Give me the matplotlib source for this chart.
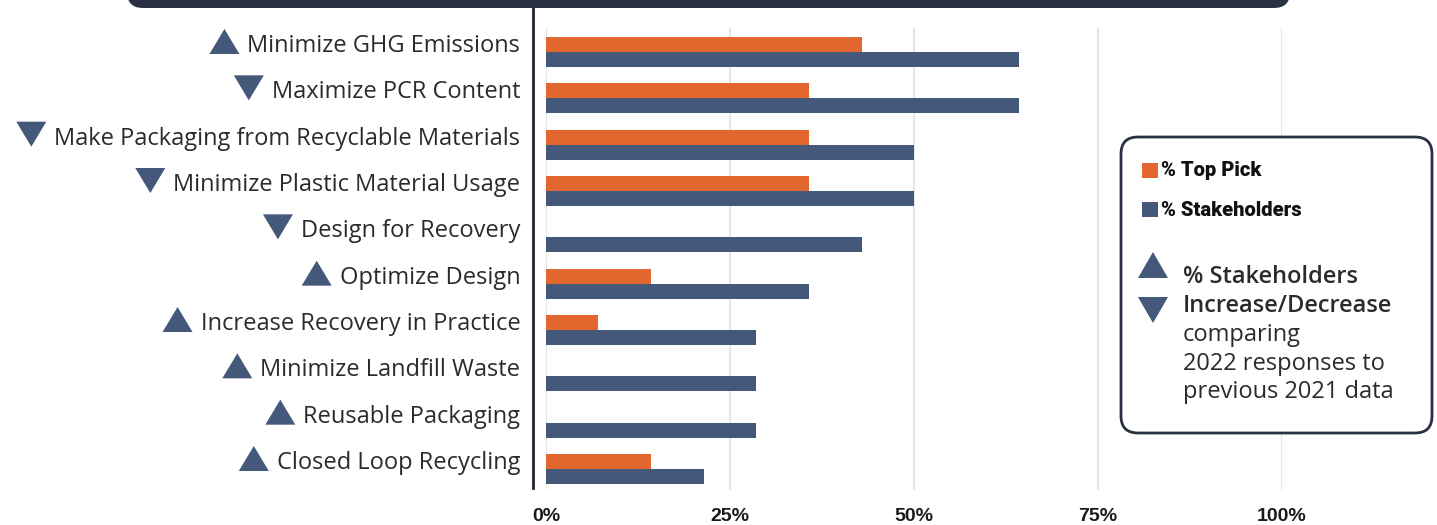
import matplotlib
matplotlib.use("Agg")
import matplotlib.pyplot as plt
from matplotlib.patches import FancyBboxPatch, Polygon, Rectangle
import numpy as np

# survey results, share of respondents (%)
categories = [
    "Minimize GHG Emissions",
    "Maximize PCR Content",
    "Make Packaging from Recyclable Materials",
    "Minimize Plastic Material Usage",
    "Design for Recovery",
    "Optimize Design",
    "Increase Recovery in Practice",
    "Minimize Landfill Waste",
    "Reusable Packaging",
    "Closed Loop Recycling",
]
top_pick = [42.9, 35.7, 35.7, 35.7, 0.0, 14.3, 7.1, 0.0, 0.0, 14.3]
stakeholders = [64.3, 64.3, 50.0, 50.0, 42.9, 35.7, 28.6, 28.6, 28.6, 21.4]
trend = ["up", "down", "down", "down", "down", "up", "up", "up", "up", "up"]
xticks = [0, 25, 50, 75, 100]
xtick_labels = ["0%", "25%", "50%", "75%", "100%"]

ORANGE = "#E2672F"
NAVY = "#44587A"
DARK = "#2A3142"
TEXT = "#2B2B2B"
LABEL_FONT = ["Open Sans", "DejaVu Sans"]

W, H = 1437, 525
fig = plt.figure(figsize=(W / 100, H / 100), dpi=100)

# main bar axes, placed in pixel units
ax_l, ax_r, ax_t, ax_b = 546, 1282, 28, 490
ax = fig.add_axes([ax_l / W, 1 - ax_b / H, (ax_r - ax_l) / W, (ax_b - ax_t) / H])

y = np.arange(len(categories))
bh = 0.324
ax.barh(y - bh / 2, top_pick, height=bh, color=ORANGE, zorder=3)
ax.barh(y + bh / 2, stakeholders, height=bh, color=NAVY, zorder=3)

ax.set_xlim(0, 100)
ax.set_ylim(9.453, -0.518)
ax.set_xticks(xticks)
ax.set_xticklabels(xtick_labels, fontfamily="Liberation Sans", fontweight="bold",
                   fontsize=14, color="#1A1A1A")
ax.set_yticks(y)
ax.set_yticklabels(categories, fontfamily=LABEL_FONT, fontsize=17, color=TEXT)
for lab in ax.get_yticklabels():
    lab.set_va("baseline")
ax.tick_params(axis="x", length=0, pad=13)
ax.tick_params(axis="y", length=0, pad=18.5)
ax.grid(axis="x", color="#E6E6E6", linewidth=1.5, zorder=0)
for s in ax.spines.values():
    s.set_visible(False)

# overlay in figure pixels for decorations
ov = fig.add_axes([0, 0, 1, 1], zorder=5)
ov.set_xlim(0, W)
ov.set_ylim(H, 0)
ov.axis("off")
ov.patch.set_alpha(0)

# header banner, cut off at the top edge
ov.add_patch(FancyBboxPatch((127 + 16, -40), 1290 - 127 - 32, 48 - 16,
                            boxstyle="round,pad=16", fc=DARK, ec="none"))
# vertical divider
ov.plot([533, 533], [8, 488], color="#1F2535", linewidth=2)


def triangle(cx, top, w, h, up):
    if up:
        pts = [(cx - w / 2, top + h), (cx + w / 2, top + h), (cx, top)]
    else:
        pts = [(cx - w / 2, top), (cx + w / 2, top), (cx, top + h)]
    ov.add_patch(Polygon(pts, closed=True, fc=NAVY, ec="none"))


# trend arrows next to the category labels
fig.canvas.draw()
renderer = fig.canvas.get_renderer()
for lab, t in zip(ax.get_yticklabels(), trend):
    bb = lab.get_window_extent(renderer)
    base = H - ax.transData.transform((0, lab.get_position()[1]))[1]
    right = bb.x0 - 8
    triangle(right - 15, base - 23, 30, 25, t == "up")

# legend box
ov.add_patch(FancyBboxPatch((1121 + 17, 137 + 17), 1432 - 1121 - 34, 433 - 137 - 34,
                            boxstyle="round,pad=17", fc="white", ec=DARK, lw=2))
ov.add_patch(Rectangle((1142, 163), 16, 15, fc=ORANGE, ec="none"))
ov.add_patch(Rectangle((1142, 202), 16, 15, fc=NAVY, ec="none"))
ov.text(1161, 171, "% Top Pick", fontfamily="Roboto", fontweight=900, fontsize=14.5,
        color="#111111", va="center")
ov.text(1161, 210, "% Stakeholders", fontfamily="Roboto", fontweight=900, fontsize=14.5,
        color="#111111", va="center")
triangle(1153, 252, 30, 26, True)
triangle(1153, 297, 30, 26, False)
ov.text(1183, 283, "% Stakeholders", fontfamily=LABEL_FONT, fontweight="semibold",
        fontsize=17, color=TEXT, va="baseline")
ov.text(1183, 312, "Increase/Decrease", fontfamily=LABEL_FONT, fontweight="semibold",
        fontsize=17, color=TEXT, va="baseline")
for yy, s in zip([341, 370, 398], ["comparing", "2022 responses to", "previous 2021 data"]):
    ov.text(1183, yy, s, fontfamily=LABEL_FONT, fontsize=17, color=TEXT, va="baseline")

fig.savefig("out.png", dpi=100, facecolor="white")
